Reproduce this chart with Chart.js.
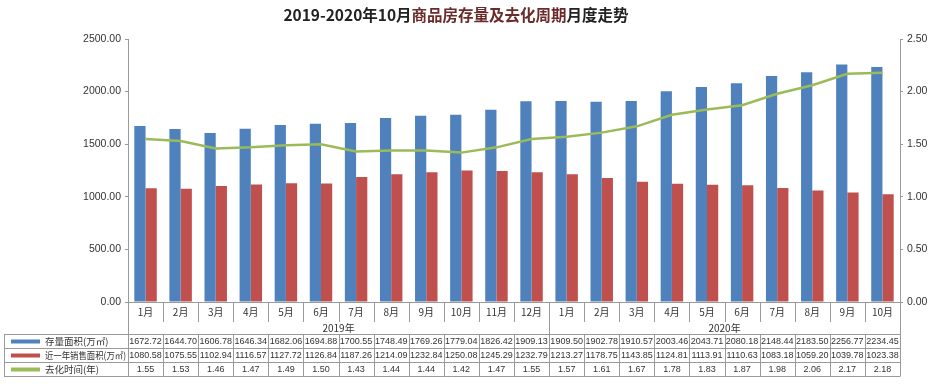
<!DOCTYPE html>
<html><head><meta charset="utf-8">
<script src="https://cdn.jsdelivr.net/npm/chart.js@4/dist/chart.umd.min.js"></script>
<style>html,body{margin:0;padding:0;background:#fff}#wrap{width:940px;height:384px}</style>
</head><body><div id="wrap"><canvas id="c" width="940" height="384"></canvas></div>
<script>
const months = ['1月','2月','3月','4月','5月','6月','7月','8月','9月','10月','11月','12月','1月','2月','3月','4月','5月','6月','7月','8月','9月','10月'];
const years = ['2019年','2020年'];
const yearSpans = [12,10];
const stock = [1672.72,1644.70,1606.78,1646.34,1682.06,1694.88,1700.55,1748.49,1769.26,1779.04,1826.42,1909.13,1909.50,1902.78,1910.57,2003.46,2043.71,2080.18,2148.44,2183.50,2256.77,2234.45];
const sales = [1080.58,1075.55,1102.94,1116.57,1127.72,1126.84,1187.26,1214.09,1232.84,1250.08,1245.29,1232.79,1213.27,1178.75,1143.85,1124.81,1113.91,1110.63,1083.18,1059.20,1039.78,1023.38];
const cycle = [1.55,1.53,1.46,1.47,1.49,1.50,1.43,1.44,1.44,1.42,1.47,1.55,1.57,1.61,1.67,1.78,1.83,1.87,1.98,2.06,2.17,2.18];
const seriesNames = ['存量面积(万㎡)','近一年销售面积(万㎡)','去化时间(年)'];
const titleParts = [['2019-2020年10月','#222'],['商品房存量及去化周期','#6b2b2b'],['月度走势','#222']];

const BLUE='#4F81BD', RED='#C0504D', GREEN='#9BBB59';
const LINE='#9a9a9a';

const tablePlugin = {
  id:'table',
  afterDraw(chart){
    const {ctx, chartArea, scales} = chart;
    const x = scales.x;
    const half = (x.getPixelForValue(1)-x.getPixelForValue(0))/2;
    const L = chartArea.left, R = chartArea.right, B = chartArea.bottom;
    const rowTop = 334, rowH = 14;
    ctx.save();
    // title
    ctx.font = 'bold 15.5px "Noto Sans CJK SC"';
    ctx.textBaseline = 'middle';
    let tw = titleParts.reduce((s,p)=>s+ctx.measureText(p[0]).width,0);
    let tx = 456 - tw/2;
    for (const [t,c] of titleParts){ ctx.fillStyle=c; ctx.textAlign='left'; ctx.fillText(t,tx,15); tx+=ctx.measureText(t).width; }
    ctx.strokeStyle = LINE; ctx.lineWidth = 1;
    ctx.beginPath();
    for (let i=1;i<months.length;i++){
      const px = Math.round(x.getPixelForValue(i)-half)+0.5;
      const bottom = (i===yearSpans[0]) ? rowTop : 322;
      ctx.moveTo(px,B); ctx.lineTo(px,bottom);
    }
    ctx.moveTo(Math.round(L)+0.5,B); ctx.lineTo(Math.round(L)+0.5,rowTop+3*rowH);
    ctx.moveTo(Math.round(R)+0.5,B); ctx.lineTo(Math.round(R)+0.5,rowTop+3*rowH);
    for (let r=0;r<=3;r++){
      const y = rowTop + r*rowH + 0.5;
      ctx.moveTo(4,y); ctx.lineTo(Math.round(R)+0.5,y);
    }
    ctx.moveTo(4.5,rowTop); ctx.lineTo(4.5,rowTop+3*rowH);
    for (let i=1;i<months.length;i++){
      const px = Math.round(x.getPixelForValue(i)-half)+0.5;
      ctx.moveTo(px,rowTop); ctx.lineTo(px,rowTop+3*rowH);
    }
    ctx.stroke();
    ctx.fillStyle='#333'; ctx.font='10px "Noto Sans CJK SC"'; ctx.textAlign='center';
    let start=0;
    for (let k=0;k<years.length;k++){
      const a = x.getPixelForValue(start)-half, b = x.getPixelForValue(start+yearSpans[k]-1)+half;
      ctx.fillText(years[k],(a+b)/2,328);
      start+=yearSpans[k];
    }
    const cols=[BLUE,RED,GREEN];
    const data=[stock,sales,cycle];
    for (let r=0;r<3;r++){
      const cy = rowTop + r*rowH + rowH/2 + 0.5;
      ctx.strokeStyle=cols[r]; ctx.lineWidth=4;
      ctx.beginPath(); ctx.moveTo(11,cy); ctx.lineTo(40,cy); ctx.stroke();
      ctx.fillStyle='#333'; ctx.textAlign='left'; ctx.font='9.5px "Noto Sans CJK SC"';
      ctx.fillText(seriesNames[r],45,cy,L-47);
      ctx.textAlign='center'; ctx.font='9px "Liberation Sans"';
      for (let i=0;i<months.length;i++){
        ctx.fillText(data[r][i].toFixed(2), x.getPixelForValue(i), cy);
      }
    }
    ctx.restore();
  }
};

new Chart(document.getElementById('c'),{
  data:{
    labels:months,
    datasets:[
      {type:'line',label:seriesNames[2],data:cycle,yAxisID:'y1',borderColor:GREEN,borderWidth:2.5,pointRadius:0,tension:0,order:0},
      {type:'bar',label:seriesNames[0],data:stock,yAxisID:'y',backgroundColor:BLUE,categoryPercentage:0.64,barPercentage:1,order:1},
      {type:'bar',label:seriesNames[1],data:sales,yAxisID:'y',backgroundColor:RED,categoryPercentage:0.64,barPercentage:1,order:1}
    ]
  },
  options:{
    responsive:false,animation:false,
    layout:{padding:{top:39,left:0,right:0,bottom:0}},
    plugins:{legend:{display:false},tooltip:{enabled:false},title:{display:false}},
    scales:{
      x:{
        grid:{display:false,drawTicks:false},
        border:{display:true,color:LINE},
        ticks:{color:'#333',font:{size:10,family:'"Noto Sans CJK SC"'},padding:4,maxRotation:0,autoSkip:false},
        afterFit(s){s.height=82;}
      },
      y:{
        position:'left',min:0,max:2500,
        ticks:{stepSize:500,color:'#333',font:{size:10.5,family:'"Liberation Sans"'},padding:4,callback:v=>v.toFixed(2)},
        grid:{drawOnChartArea:false,drawTicks:true,tickLength:3,color:LINE},
        border:{color:LINE},
        afterFit(s){s.width=128;}
      },
      y1:{
        position:'right',min:0,max:2.5,
        ticks:{stepSize:0.5,color:'#333',font:{size:10.5,family:'"Liberation Sans"'},padding:4,callback:v=>v.toFixed(2)},
        grid:{drawOnChartArea:false,drawTicks:true,tickLength:3,color:LINE},
        border:{color:LINE},
        afterFit(s){s.width=40;}
      }
    }
  },
  plugins:[tablePlugin]
});
</script></body></html>
